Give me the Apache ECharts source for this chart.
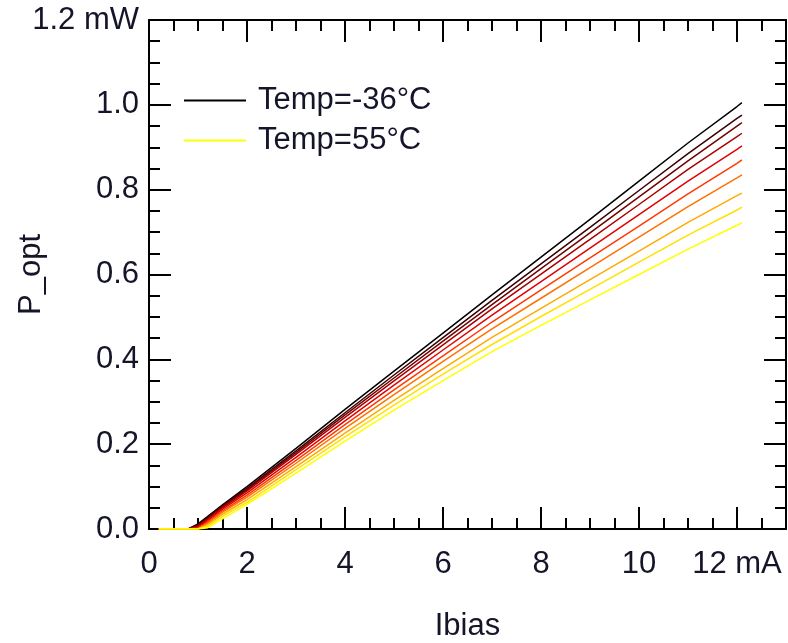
<!DOCTYPE html>
<html>
<head>
<meta charset="utf-8">
<script src="https://cdn.jsdelivr.net/npm/echarts@6/dist/echarts.min.js"></script>
<style>
html,body{margin:0;padding:0;background:#fff;}
#chart{width:788px;height:643px;}
</style>
</head>
<body>
<div id="chart"></div>
<script>
// Bias current (mA)
const ibias = [0.2, 0.5, 0.8, 1.0, 1.2, 1.5, 2, 3, 4, 5, 6, 7, 8, 9, 10, 11, 12, 12.1];
// Temperatures (°C) of the sweep
const temps = [-36, -26, -16, -6, 4, 15, 25, 35, 45, 55];
// Optical power (mW) per temperature
const pM36 = [0,0,0,0.012,0.030,0.057,0.100,0.190,0.282,0.372,0.462,0.552,0.641,0.730,0.820,0.910,0.996,1.005];
const pM26 = [0,0,0,0.010,0.028,0.055,0.096,0.184,0.274,0.363,0.451,0.539,0.625,0.711,0.798,0.885,0.968,0.976];
const pM16 = [0,0,0,0.008,0.026,0.053,0.093,0.180,0.269,0.356,0.443,0.529,0.614,0.698,0.783,0.868,0.950,0.958];
const pM6  = [0,0,0,0.006,0.023,0.050,0.090,0.176,0.263,0.349,0.434,0.519,0.601,0.683,0.765,0.848,0.925,0.933];
const pP4  = [0,0,0,0.004,0.020,0.047,0.085,0.169,0.255,0.339,0.422,0.504,0.583,0.662,0.741,0.820,0.895,0.903];
const pP15 = [0,0,0,0.002,0.017,0.043,0.080,0.162,0.246,0.328,0.408,0.488,0.564,0.639,0.714,0.790,0.862,0.870];
const pP25 = [0,0,0,0,0.014,0.040,0.075,0.155,0.237,0.317,0.395,0.472,0.544,0.616,0.688,0.760,0.828,0.835];
const pP35 = [0,0,0,0,0.011,0.035,0.069,0.147,0.226,0.303,0.378,0.452,0.520,0.588,0.655,0.723,0.786,0.792];
const pP45 = [0,0,0,0,0.007,0.030,0.063,0.140,0.217,0.292,0.365,0.435,0.501,0.565,0.629,0.693,0.752,0.759];
const pP55 = [0,0,0,0,0.003,0.024,0.058,0.132,0.207,0.280,0.350,0.418,0.480,0.540,0.600,0.660,0.716,0.722];
const powers = [pM36, pM26, pM16, pM6, pP4, pP15, pP25, pP35, pP45, pP55];
const colors = ['#000000','#3a0000','#720000','#aa0000','#e30000','#ff3900','#ff7100','#ffaa00','#ffe000','#ffff00'];
// Tick labels
const xTickValues = [0, 2, 4, 6, 8, 10, 12];
const xTickLabels = ['0', '2', '4', '6', '8', '10', '12 mA'];
const yTickValues = [0, 0.2, 0.4, 0.6, 0.8, 1.0, 1.2];
const yTickLabels = ['0.0', '0.2', '0.4', '0.6', '0.8', '1.0', '1.2 mW'];

function lookup(vals, labels, v) {
  for (let i = 0; i < vals.length; i++) if (Math.abs(vals[i] - v) < 1e-6) return labels[i];
  return '';
}

const FONT = 'Liberation Sans, Arial, sans-serif';
const TXT = '#15152a';
const FS = 31;
const X_MIN = 0, X_MAX = 13, Y_MIN = 0, Y_MAX = 1.2;

function xAx(pos, interval, len, showLine, showLabel) {
  return {
    type: 'value', position: pos, min: X_MIN, max: X_MAX, interval: interval,
    axisLine: {show: showLine, onZero: false, lineStyle: {color: '#000', width: 2}},
    axisTick: {show: true, inside: true, length: len, lineStyle: {color: '#000', width: 2}},
    axisLabel: showLabel ? {show: true, margin: 20, color: TXT, fontSize: FS, fontFamily: FONT,
      formatter: v => lookup(xTickValues, xTickLabels, v)} : {show: false},
    splitLine: {show: false}
  };
}
function yAx(pos, interval, len, showLine, showLabel) {
  return {
    type: 'value', position: pos, min: Y_MIN, max: Y_MAX, interval: interval,
    axisLine: {show: showLine, onZero: false, lineStyle: {color: '#000', width: 2}},
    axisTick: {show: true, inside: true, length: len, lineStyle: {color: '#000', width: 2}},
    axisLabel: showLabel ? {show: true, margin: 10, color: TXT, fontSize: FS, fontFamily: FONT,
      formatter: v => lookup(yTickValues, yTickLabels, v)} : {show: false},
    splitLine: {show: false}
  };
}

const xAxes = [
  xAx('bottom', 0.5, 11, true, true),
  xAx('bottom', 2, 22, false, false),
  xAx('top', 0.5, 11, true, false),
  xAx('top', 2, 22, false, false)
];
xAxes[0].name = 'Ibias';
xAxes[0].nameLocation = 'middle';
xAxes[0].nameGap = 82;
xAxes[0].nameMoveOverlap = false;
xAxes[0].nameTextStyle = {color: TXT, fontSize: FS, fontFamily: FONT};

const yAxes = [
  yAx('left', 0.05, 11, true, true),
  yAx('left', 0.2, 22, false, false),
  yAx('right', 0.05, 11, true, false),
  yAx('right', 0.2, 22, false, false)
];
yAxes[0].name = 'P_opt';
yAxes[0].nameLocation = 'middle';
yAxes[0].nameGap = 102;
yAxes[0].nameMoveOverlap = false;
yAxes[0].nameTextStyle = {color: TXT, fontSize: FS, fontFamily: FONT};

const series = temps.map((t, i) => ({
  name: 'Temp=' + t + '°C',
  type: 'line',
  xAxisIndex: 0, yAxisIndex: 0,
  symbol: 'none',
  animation: false,
  data: ibias.map((x, k) => [x, powers[i][k]]),
  lineStyle: {color: colors[i], width: 1.5},
  itemStyle: {color: colors[i]}
}));

const chart = echarts.init(document.getElementById('chart'), null, {renderer: 'canvas'});
chart.setOption({
  animation: false,
  backgroundColor: '#fff',
  grid: {left: 149, right: 2, top: 20, bottom: 114, containLabel: false, outerBoundsMode: 'none'},
  legend: {
    data: ['Temp=-36°C', 'Temp=55°C'],
    orient: 'vertical', left: 179, top: 80,
    icon: 'rect',
    itemWidth: 62, itemHeight: 2, itemGap: 9,
    textStyle: {color: TXT, fontSize: FS, fontFamily: FONT, padding: [0, 0, 0, 7]},
    selectedMode: false
  },
  xAxis: xAxes,
  yAxis: yAxes,
  series: series
});
</script>
</body>
</html>
